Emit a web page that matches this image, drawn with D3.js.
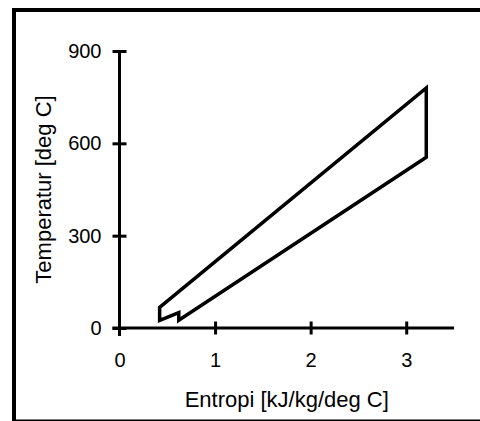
<!DOCTYPE html>
<html><head><meta charset="utf-8">
<script src="https://cdn.jsdelivr.net/npm/d3@7"></script>
<style>
html,body{margin:0;padding:0;background:#fff;overflow:hidden;}
text{font-family:"Liberation Sans",Arial,sans-serif;}
</style></head>
<body>
<script>
const entropy = [0.62, 0.42, 0.42, 3.21, 3.21, 0.62, 0.62];
const temperature = [50, 25, 67, 780, 555, 25, 50];
const xTicks = [0, 1, 2, 3];
const yTicks = [0, 300, 600, 900];
const xTitle = "Entropi [kJ/kg/deg C]";
const yTitle = "Temperatur [deg C]";

const W = 480, H = 421;
const svg = d3.select("body").append("svg").attr("width", W).attr("height", H);

svg.append("rect").attr("x", 14).attr("y", 10).attr("width", 520).attr("height", 411.5)
  .attr("fill", "none").attr("stroke", "#000").attr("stroke-width", 4);

const x = d3.scaleLinear().domain([0, 3.5]).range([119.5, 454]);
const y = d3.scaleLinear().domain([0, 900]).range([328, 51]);

const fsTick = 20, fsTitle = 22;

const yAxis = svg.append("g").attr("transform", "translate(119.5,0)")
  .call(d3.axisLeft(y).tickValues(yTicks).tickSizeInner(7).tickSizeOuter(0).tickPadding(11).tickFormat(d3.format("d")));
yAxis.select(".domain").attr("stroke-width", 3).attr("d", `M0,${y(900)}V${y(0) + 8}`);
yAxis.selectAll(".tick line").attr("x1", 7).attr("x2", -7).attr("stroke-width", 3);
yAxis.selectAll(".tick text").attr("font-size", fsTick).attr("font-family", "Liberation Sans, Arial, sans-serif").attr("fill", "#000");

const xAxis = svg.append("g").attr("transform", "translate(0,328)")
  .call(d3.axisBottom(x).tickValues(xTicks).tickSizeInner(7).tickSizeOuter(0).tickPadding(18).tickFormat(d3.format("d")));
xAxis.select(".domain").attr("stroke-width", 3).attr("d", `M${x(0) - 7},0H${x(3.5)}`);
xAxis.selectAll(".tick line").attr("y1", -6.5).attr("y2", 6.5).attr("stroke-width", 3);
xAxis.selectAll(".tick text").attr("font-size", fsTick).attr("font-family", "Liberation Sans, Arial, sans-serif").attr("fill", "#000");
xAxis.selectAll(".tick").filter(d => d === 0).select("line").remove();

const pts = entropy.map((s, i) => [s, temperature[i]]);
const line = d3.line().x(d => x(d[0])).y(d => y(d[1]));
svg.append("path").attr("d", line(pts) + "Z")
  .attr("fill", "none").attr("stroke", "#000").attr("stroke-width", 3.5)
  .attr("stroke-linejoin", "miter");

svg.append("text").attr("x", (x(0) + x(3.5)) / 2).attr("y", 407)
  .attr("text-anchor", "middle").attr("font-size", fsTitle).text(xTitle);

svg.append("text").attr("transform", `translate(51,${(y(0) + y(900)) / 2}) rotate(-90)`)
  .attr("text-anchor", "middle").attr("font-size", fsTitle).text(yTitle);
</script>
</body></html>
